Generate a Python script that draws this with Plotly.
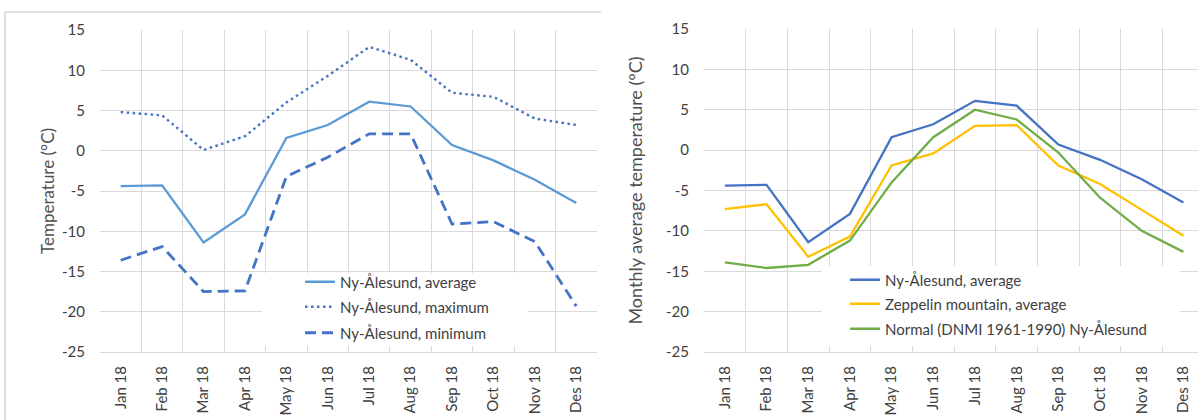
import plotly.graph_objects as go

months = ["Jan 18", "Feb 18", "Mar 18", "Apr 18", "May 18", "Jun 18",
          "Jul 18", "Aug 18", "Sep 18", "Oct 18", "Nov 18", "Des 18"]

ny_avg = [-4.4, -4.3, -11.4, -7.9, 1.6, 3.2, 6.1, 5.5, 0.7, -1.2, -3.6, -6.5]
ny_max = [4.8, 4.4, 0.1, 1.8, 6.0, 9.3, 12.9, 11.3, 7.2, 6.7, 4.0, 3.2]
ny_min = [-13.6, -11.9, -17.5, -17.4, -3.2, -0.8, 2.1, 2.1, -9.1, -8.8, -11.3, -19.3]

zeppelin_avg = [-7.3, -6.7, -13.2, -10.7, -1.9, -0.4, 3.0, 3.1, -1.9, -4.2, -7.4, -10.6]
normal_avg = [-13.9, -14.6, -14.2, -11.2, -4.0, 1.6, 5.0, 3.8, -0.3, -5.9, -10.0, -12.6]

y_ticks = [15, 10, 5, 0, -5, -10, -15, -20, -25]
y_ticktext = ["15", "10", "5", "0", "-5", "-10", "-15", "-20", "-25"]

W, H = 1198, 420
FONT = "Lato"
TXT = "#404040"
TITLE = "#505050"
GRID = "#D9D9D9"


def px(x):
    return x / W


def py(y):
    return 1 - y / H


fig = go.Figure()

# Left chart
fig.add_trace(go.Scatter(x=months, y=ny_avg, mode="lines", name="Ny-Ålesund, average",
                         line=dict(color="#5B9BD5", width=2.3), xaxis="x", yaxis="y", legend="legend"))
fig.add_trace(go.Scatter(x=months, y=ny_max, mode="lines", name="Ny-Ålesund, maximum",
                         line=dict(color="#4472C4", width=2.4, dash="2.5px,3.5px"), xaxis="x", yaxis="y", legend="legend2"))
fig.add_trace(go.Scatter(x=months, y=ny_min, mode="lines", name="Ny-Ålesund, minimum",
                         line=dict(color="#4472C4", width=2.8, dash="11px,6px"), xaxis="x", yaxis="y", legend="legend3"))

# Right chart
fig.add_trace(go.Scatter(x=months, y=ny_avg, mode="lines", name="Ny-Ålesund, average",
                         line=dict(color="#4472C4", width=2.3), xaxis="x2", yaxis="y2", legend="legend4"))
fig.add_trace(go.Scatter(x=months, y=zeppelin_avg, mode="lines", name="Zeppelin mountain, average",
                         line=dict(color="#FFC000", width=2.3), xaxis="x2", yaxis="y2", legend="legend5"))
fig.add_trace(go.Scatter(x=months, y=normal_avg, mode="lines", name="Normal (DNMI 1961-1990) Ny-Ålesund",
                         line=dict(color="#70AD47", width=2.3), xaxis="x2", yaxis="y2", legend="legend6"))

xcommon = dict(type="category", tickangle=-90, showgrid=True, gridcolor=GRID, gridwidth=1,
               tickson="boundaries", ticks="", showline=True, linecolor=GRID, linewidth=1,
               tickfont=dict(family=FONT, size=15, color=TXT), ticklabelstandoff=7,
               zeroline=False, fixedrange=True, automargin=False)
ycommon = dict(range=[-25, 15], tickvals=y_ticks, ticktext=y_ticktext, showgrid=True,
               gridcolor=GRID, gridwidth=1, zeroline=False, showline=False, ticks="",
               tickfont=dict(family=FONT, size=15, color=TXT), ticklabelstandoff=14,
               fixedrange=True, automargin=False)


def leg(x, y):
    return dict(x=px(x), y=py(y), xanchor="left", yanchor="middle",
                bgcolor="rgba(0,0,0,0)", borderwidth=0, tracegroupgap=0,
                font=dict(family=FONT, size=15, color=TXT), itemwidth=30)


fig.update_layout(
    width=W, height=H,
    margin=dict(l=0, r=0, t=0, b=0, autoexpand=False),
    paper_bgcolor="white", plot_bgcolor="white",
    xaxis=dict(domain=[px(100), px(597)], range=[-0.5, 11.5], anchor="y", **xcommon),
    yaxis=dict(domain=[py(352), py(30)], anchor="x",
               title=dict(text="Temperature (°C)", font=dict(family=FONT, size=17, color=TITLE), standoff=3),
               **ycommon),
    xaxis2=dict(domain=[px(704), 1.0], range=[-0.5, 11.35], anchor="y2", **xcommon),
    yaxis2=dict(domain=[py(352), py(29)], anchor="x2",
                title=dict(text="Monthly average temperature (°C)", font=dict(family=FONT, size=18, color=TITLE), standoff=18),
                **ycommon),
    legend=leg(300, 282),
    legend2=leg(300, 307),
    legend3=leg(300, 333),
    legend4=leg(845, 280),
    legend5=leg(845, 304),
    legend6=leg(845, 329),
    shapes=[
        # chart frame (left panel)
        dict(type="line", xref="paper", yref="paper", x0=px(5), x1=px(601), y0=py(12), y1=py(12),
             line=dict(color="#C8C8C8", width=1.2)),
        dict(type="line", xref="paper", yref="paper", x0=px(5), x1=px(5), y0=py(12), y1=py(425),
             line=dict(color="#C8C8C8", width=1.2)),
        # white legend backgrounds (cover gridlines only, below the traces)
        dict(type="rect", xref="x", yref="y",
             x0=3.41, x1=9.83, y0=-24.25, y1=-15.2,
             line=dict(width=0), fillcolor="white", layer="between"),
        dict(type="rect", xref="x2", yref="y2",
             x0=2.32, x1=10.92, y0=-24.25, y1=-14.35,
             line=dict(width=0), fillcolor="white", layer="between"),
    ],
    showlegend=True,
)

fig.write_html("out.html")
